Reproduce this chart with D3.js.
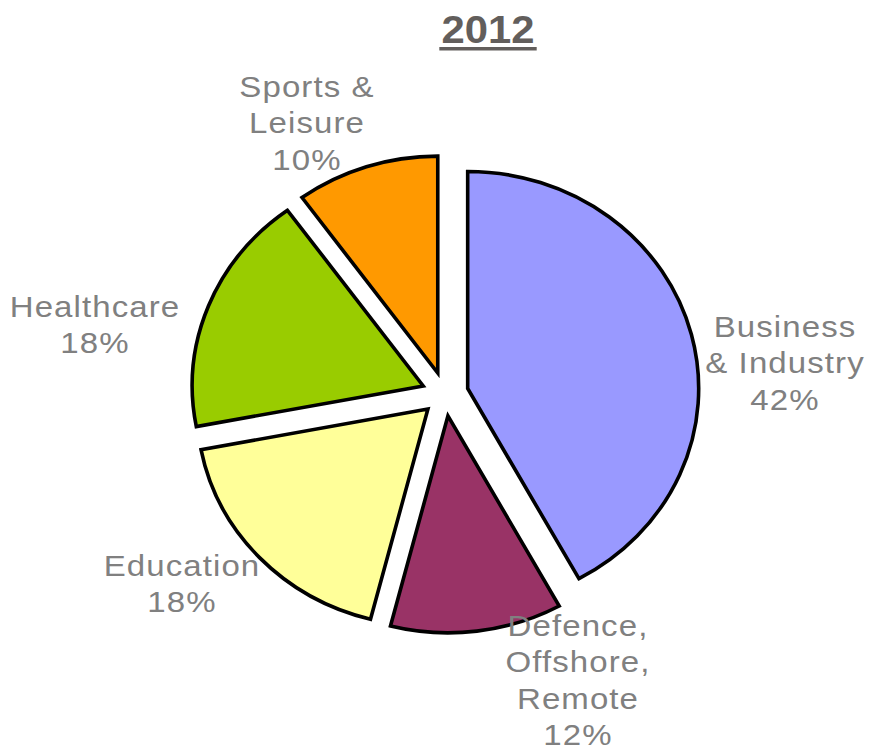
<!DOCTYPE html>
<html>
<head>
<meta charset="utf-8">
<script src="https://cdn.jsdelivr.net/npm/d3@7"></script>
<style>
  html, body { margin: 0; padding: 0; background: #ffffff; }
  svg { display: block; }
</style>
</head>
<body>
<svg id="chart" width="877" height="755"></svg>
<script>
// Market share by sector, 2012
const title = "2012";
const sectors = ["Business & Industry", "Defence, Offshore, Remote", "Education", "Healthcare", "Sports & Leisure"];
const labelLines = [["Business", "& Industry"], ["Defence,", "Offshore,", "Remote"], ["Education"], ["Healthcare"], ["Sports &", "Leisure"]];
const shares = [42, 12, 18, 18, 10];
const colors = ["#9999ff", "#993366", "#ffff99", "#99cc00", "#ff9900"];

// Layout
const W = 877, H = 755;
const centre = [445, 394];
const radius = 217;
const stretchX = 231 / 217;     // pie is drawn slightly wider than tall
const explode = 22;
// label block anchors relative to the pie centre: [dx, first baseline dy]
const labelOffsets = [[340, -57], [133, 242], [-263, 182], [-350, -77], [-138, -297]];
const lineGap = 36.5;
const labelScaleX = 1.1;

const svg = d3.select("#chart");

const pie = d3.pie().sort(null).value(d => d)(shares);
const arc = d3.arc().innerRadius(0).outerRadius(radius);

const pieG = svg.append("g")
  .attr("transform", `translate(${centre[0]},${centre[1]}) scale(${stretchX},1)`);

pieG.selectAll("path")
  .data(pie)
  .join("path")
  .attr("transform", d => {
    const mid = (d.startAngle + d.endAngle) / 2;
    return `translate(${explode * Math.sin(mid)},${-explode * Math.cos(mid)})`;
  })
  .attr("d", arc)
  .attr("fill", (d, i) => colors[i])
  .attr("stroke", "#000")
  .attr("stroke-width", 3.6)
  .attr("stroke-linejoin", "miter")
  .attr("vector-effect", "non-scaling-stroke");

// Slice labels: name lines followed by the percentage
const labels = svg.append("g")
  .attr("font-family", "'Liberation Sans', Arial, sans-serif")
  .attr("font-size", 30)
  .attr("fill", "#808080")
  .attr("letter-spacing", 1);

sectors.forEach((name, i) => {
  const [dx, dy] = labelOffsets[i];
  const lines = labelLines[i].concat([shares[i] + "%"]);
  const g = labels.append("g")
    .attr("transform", `translate(${centre[0] + dx},${centre[1] + dy}) scale(${labelScaleX},1)`);
  g.selectAll("text")
    .data(lines)
    .join("text")
    .attr("x", 0)
    .attr("y", (d, j) => j * lineGap)
    .attr("text-anchor", "middle")
    .text(d => d);
});

// Title, bold and underlined
const titleG = svg.append("g")
  .attr("transform", `translate(488,43) scale(1.1,1)`);
const titleText = titleG.append("text")
  .attr("text-anchor", "middle")
  .attr("font-family", "'Liberation Sans', Arial, sans-serif")
  .attr("font-weight", "bold")
  .attr("font-size", 38)
  .attr("fill", "#625e5c")
  .text(title);
const tw = titleText.node().getComputedTextLength();
titleG.append("rect")
  .attr("x", -tw / 2 - 2)
  .attr("y", 4)
  .attr("width", tw + 4)
  .attr("height", 3.5)
  .attr("fill", "#625e5c");
</script>
</body>
</html>
